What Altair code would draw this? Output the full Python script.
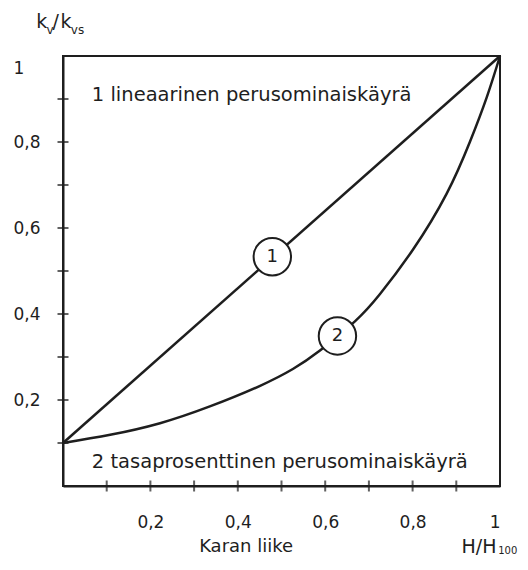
import altair as alt
import pandas as pd

# ---- data ----
tick_values = [0.1, 0.2, 0.3, 0.4, 0.5, 0.6, 0.7, 0.8, 0.9]
label_values = [0.2, 0.4, 0.6, 0.8, 1.0]

lin_x = [0.0, 1.0]
lin_y = [0.1, 1.0]

eq_x = [0.0, 0.108, 0.222, 0.336, 0.451, 0.526, 0.588, 0.668, 0.725, 0.801, 0.878, 0.931, 0.970, 1.0]
eq_y = [0.1, 0.119, 0.146, 0.185, 0.233, 0.272, 0.315, 0.383, 0.446, 0.550, 0.680, 0.800, 0.905, 1.0]

marker_ids = ["1", "2"]
marker_x = [0.479, 0.628]
marker_y = [0.533, 0.349]

FONT = "DejaVu Sans"
INK = "#1e1e1e"

curves = pd.concat([
    pd.DataFrame({"x": lin_x, "y": lin_y, "c": "1"}),
    pd.DataFrame({"x": eq_x, "y": eq_y, "c": "2"}),
])
ticks = pd.DataFrame({"v": tick_values})
markers = pd.DataFrame({"id": marker_ids, "x": marker_x, "y": marker_y})
one = pd.DataFrame({"a": [0]})

label_expr = "replace(format(datum.value, '.1~f'), '.', ',')"

xs = alt.Scale(domain=[0, 1], nice=False, zero=False)
ys = alt.Scale(domain=[0, 1], nice=False, zero=False)

x_axis = alt.Axis(values=label_values, labelExpr=label_expr, tickSize=0, grid=False,
                  domainColor=INK, domainWidth=2, labelPadding=28, labelFontSize=17,
                  labelFont=FONT, labelColor=INK, title=None)
y_axis = alt.Axis(values=label_values, labelExpr=label_expr, tickSize=0, grid=False,
                  domainColor=INK, domainWidth=2, labelPadding=50, labelAlign="left",
                  labelFontSize=17, labelFont=FONT, labelColor=INK, title=None,
                  labelOffset={"condition": {"test": "datum.value === 1", "value": 12}, "value": 0})

lines = alt.Chart(curves).mark_line(color=INK, strokeWidth=2.5, interpolate="natural").encode(
    x=alt.X("x:Q", scale=xs, axis=x_axis),
    y=alt.Y("y:Q", scale=ys, axis=y_axis),
    detail="c:N",
)

yticks = alt.Chart(ticks).mark_tick(orient="horizontal", size=11, thickness=2, color=INK).encode(
    x=alt.datum(0), y=alt.Y("v:Q", scale=ys)
)
xticks = alt.Chart(ticks).mark_tick(orient="vertical", size=11, thickness=2, color=INK).encode(
    x=alt.X("v:Q", scale=xs), y=alt.datum(0)
)

circles = alt.Chart(markers).mark_point(shape="circle", size=1400, filled=True, fill="white",
                                        stroke=INK, strokeWidth=2, opacity=1).encode(
    x=alt.X("x:Q", scale=xs), y=alt.Y("y:Q", scale=ys)
)
circle_text = alt.Chart(markers).mark_text(fontSize=18, font=FONT, color=INK, baseline="middle").encode(
    x=alt.X("x:Q", scale=xs), y=alt.Y("y:Q", scale=ys), text="id:N"
)


def label(text, x, y, size=18, align="left"):
    return alt.Chart(one).mark_text(text=text, align=align, baseline="middle", fontSize=size,
                                    font=FONT, color=INK).encode(x=alt.datum(x), y=alt.datum(y))


texts = [
    label("1 lineaarinen perusominaiskäyrä", 0.066, 0.909, size=19.5),
    label("2 tasaprosenttinen perusominaiskäyrä", 0.066, 0.056, size=19.5),
    label("Karan liike", 0.419, -0.142, align="center"),
    label("H/H", 0.912, -0.142, size=19),
    label("100", 0.996, -0.152, size=10),
    label("k", -0.061, 1.079, size=19),
    label("v", -0.038, 1.061, size=12),
    label("/", -0.024, 1.079, size=19),
    label("k", -0.006, 1.079, size=19),
    label("vs", 0.018, 1.061, size=12),
]

chart = alt.layer(lines, yticks, xticks, circles, circle_text, *texts).properties(
    width=437, height=430,
    autosize=alt.AutoSizeParams(type="none"),
    padding={"left": 55, "top": 48, "right": 20, "bottom": 70},
    background="white",
).configure_view(stroke=INK, strokeWidth=2)

chart.save("out.html", embed_options={"renderer": "svg", "actions": False})
